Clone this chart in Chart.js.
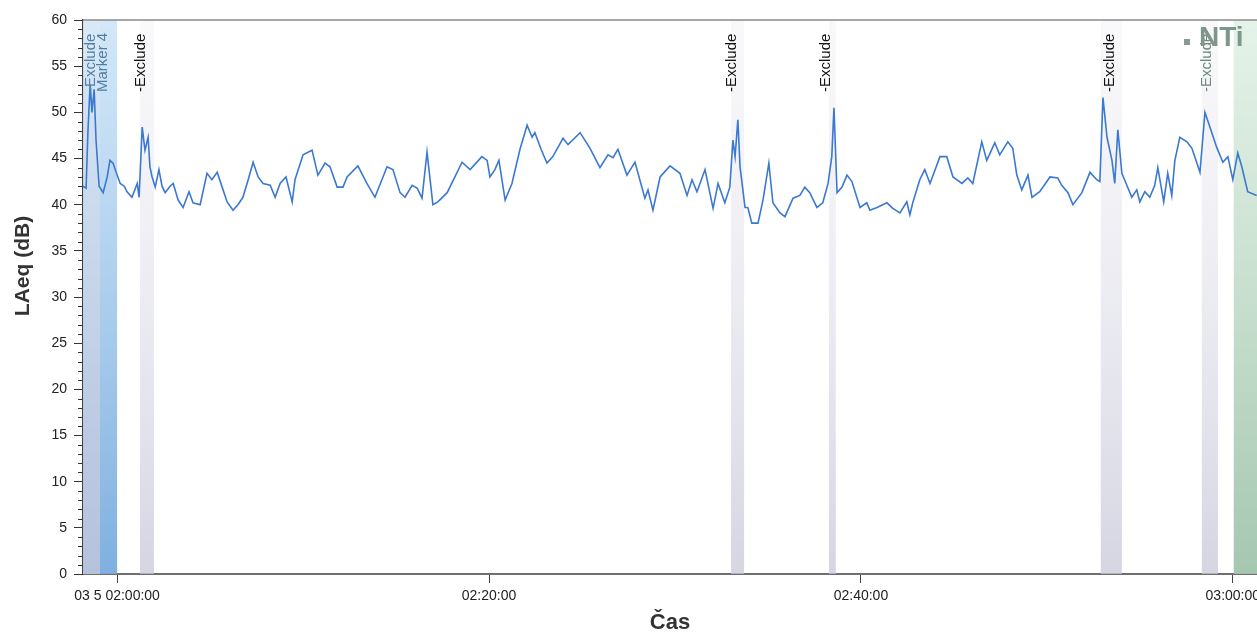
<!DOCTYPE html>
<html>
<head>
<meta charset="utf-8">
<title>LAeq</title>
<script src="https://cdn.jsdelivr.net/npm/chart.js@4"></script>
<style>
  html, body { margin: 0; padding: 0; background: #fff; }
  #wrap { width: 1257px; height: 634px; }
</style>
</head>
<body>
<div id="wrap"><canvas id="laeqChart" width="1257" height="634"></canvas></div>
<script>
// tijd in seconden vanaf 02:00:00
const timeSec = [
  -110, -100, -94, -87, -81, -74, -68, -58, -45, -32, -23, -13, -3, 10, 23, 32, 48, 65, 71, 81,
  90, 100, 106, 113, 123, 135, 145, 155, 171, 181, 197, 213, 232, 245, 268, 290, 306, 323, 339, 355,
  374, 390, 406, 423, 439, 455, 471, 494, 510, 526, 545, 565, 574, 600, 629, 648, 671, 687, 710, 729,
  742, 777, 806, 832, 871, 890, 913, 929, 952, 968, 984, 1000, 1019, 1035, 1065, 1090, 1113, 1139, 1177, 1194,
  1203, 1219, 1232, 1252, 1274, 1300, 1323, 1339, 1348, 1368, 1387, 1406, 1439, 1455, 1494, 1526, 1558, 1584, 1600, 1616,
  1645, 1671, 1703, 1713, 1729, 1752, 1784, 1816, 1839, 1855, 1871, 1897, 1923, 1939, 1961, 1977, 1987, 1994, 2003, 2010,
  2026, 2035, 2048, 2068, 2084, 2103, 2116, 2139, 2155, 2181, 2203, 2219, 2235, 2258, 2277, 2294, 2306, 2313, 2323, 2339,
  2355, 2371, 2397, 2419, 2429, 2452, 2484, 2503, 2526, 2548, 2558, 2568, 2590, 2606, 2623, 2655, 2677, 2697, 2726, 2745,
  2761, 2790, 2806, 2832, 2848, 2874, 2890, 2903, 2919, 2939, 2952, 2977, 3010, 3035, 3048, 3068, 3084, 3113, 3139, 3161,
  3171, 3181, 3194, 3210, 3219, 3229, 3242, 3258, 3274, 3290, 3300, 3316, 3332, 3348, 3358, 3377, 3390, 3403, 3413, 3429,
  3452, 3468, 3494, 3510, 3526, 3548, 3568, 3584, 3600, 3616, 3629, 3648, 3677
];
const laeq = [
  42.0, 41.8, 48.0, 53.0, 50.0, 52.5, 47.0, 42.0, 41.3, 43.0, 44.8, 44.5, 43.5, 42.3, 42.0, 41.4, 40.8, 42.3, 40.8, 48.4,
  45.9, 47.3, 44.1, 43.0, 41.9, 43.8, 42.0, 41.3, 42.0, 42.3, 40.5, 39.7, 41.4, 40.2, 40.0, 43.4, 42.7, 43.5, 41.9, 40.3,
  39.4, 40.0, 40.8, 42.7, 44.6, 43.0, 42.3, 42.1, 40.8, 42.3, 43.0, 40.3, 42.7, 45.4, 45.9, 43.2, 44.5, 44.1, 41.9, 41.9,
  43.0, 44.2, 42.3, 40.8, 44.1, 43.8, 41.3, 40.8, 42.1, 41.8, 40.7, 45.7, 40.0, 40.3, 41.3, 43.0, 44.6, 43.8, 45.2, 44.8,
  43.0, 43.8, 44.8, 40.5, 42.3, 46.0, 48.6, 47.3, 47.8, 46.0, 44.5, 45.2, 47.2, 46.5, 47.8, 46.1, 44.0, 45.4, 45.1, 46.0,
  43.2, 44.6, 40.7, 41.6, 39.4, 43.0, 44.2, 43.4, 41.0, 42.7, 41.4, 43.8, 39.6, 42.3, 40.2, 41.9, 47.0, 45.2, 49.2, 44.1,
  39.7, 39.7, 38.0, 38.0, 40.5, 44.5, 40.2, 39.1, 38.7, 40.7, 41.0, 41.9, 41.3, 39.7, 40.2, 42.3, 45.2, 50.5, 41.3, 41.9,
  43.2, 42.5, 39.7, 40.2, 39.4, 39.7, 40.2, 39.6, 39.1, 40.3, 38.9, 40.3, 42.7, 43.8, 42.3, 45.2, 45.2, 43.0, 42.3, 42.9,
  42.3, 46.8, 44.8, 46.7, 45.4, 46.8, 46.1, 43.2, 41.6, 43.2, 40.8, 41.4, 43.0, 42.9, 42.1, 41.3, 40.0, 41.3, 43.5, 42.7,
  42.5, 51.6, 47.3, 44.8, 42.3, 48.1, 43.4, 42.1, 40.8, 41.6, 40.3, 41.4, 40.8, 42.1, 44.0, 40.3, 43.4, 41.0, 44.8, 47.3,
  46.8, 46.1, 43.5, 50.0, 48.4, 46.2, 44.6, 45.2, 42.7, 45.6, 44.1, 41.4, 41.0
];

const xTickValues = [0, 1200, 2400, 3600];
const xTickLabels = ['03 5 02:00:00', '02:20:00', '02:40:00', '03:00:00'];

// gemarkeerde stukken (seconden)
const markerBand = [-110, 0];
const excludeStart = [-110, 74, 1981, 2297, 3174, 3500];
const excludeEnd = [-55, 119, 2023, 2319, 3242, 3552];
const greenBand = [3603, 3678];

// labels bovenin
const labelTimes = [-84, -45, 77, 1984, 2287, 3203, 3516];
const labelTexts = ['-Exclude', 'Marker 4', '-Exclude', '-Exclude', '-Exclude', '-Exclude', '-Exclude'];
const labelColors = ['#4f7fa6', '#4f7fa6', '#111', '#111', '#111', '#111', '#6d8a7a'];

const sans = '"Liberation Sans", Arial, sans-serif';

const bandPlugin = {
    id: 'bands',
    beforeDatasetsDraw(chart) {
        const { ctx, chartArea: a, scales: { x } } = chart;
        const band = (s, e, top, bottom) => {
            const g = ctx.createLinearGradient(0, a.top, 0, a.bottom);
            g.addColorStop(0, top);
            g.addColorStop(1, bottom);
            const x1 = x.getPixelForValue(s);
            const x2 = x.getPixelForValue(e);
            ctx.fillStyle = g;
            ctx.fillRect(x1, a.top, x2 - x1, a.bottom - a.top);
        };
        ctx.save();
        band(markerBand[0], markerBand[1], 'rgba(200,226,246,0.8)', 'rgba(120,172,222,0.95)');
        excludeStart.forEach((s, i) => {
            band(s, excludeEnd[i], 'rgba(235,235,242,0.3)', 'rgba(200,200,218,0.75)');
        });
        band(greenBand[0], greenBand[1], 'rgba(222,240,226,0.8)', 'rgba(160,196,172,0.95)');
        ctx.restore();
    },
    afterDraw(chart) {
        const { ctx, chartArea: a, scales: { x, y } } = chart;
        ctx.save();
        // bovenrand
        ctx.strokeStyle = '#8a8a8a';
        ctx.lineWidth = 1.5;
        ctx.beginPath();
        ctx.moveTo(a.left, a.top);
        ctx.lineTo(a.right, a.top);
        ctx.stroke();

        // kleine streepjes op de y-as
        ctx.strokeStyle = '#333';
        ctx.lineWidth = 1;
        for (let v = 0; v <= 60; v++) {
            if (v % 5 === 0) continue;
            const py = Math.round(y.getPixelForValue(v)) + 0.5;
            ctx.beginPath();
            ctx.moveTo(a.left - 5, py);
            ctx.lineTo(a.left, py);
            ctx.stroke();
        }

        // Exclude / Marker teksten
        ctx.font = '15px ' + sans;
        ctx.textAlign = 'left';
        ctx.textBaseline = 'middle';
        labelTimes.forEach((t, i) => {
            ctx.save();
            ctx.translate(x.getPixelForValue(t), 92);
            ctx.rotate(-Math.PI / 2);
            ctx.fillStyle = labelColors[i];
            ctx.fillText(labelTexts[i], 0, 0);
            ctx.restore();
        });

        // logo
        ctx.fillStyle = '#8a9a92';
        ctx.fillRect(1184, 39, 6, 6);
        ctx.fillStyle = '#7f978a';
        ctx.font = 'bold 28px ' + sans;
        ctx.textBaseline = 'alphabetic';
        ctx.fillText('NTi', 1199, 46);

        // y-as titel
        ctx.save();
        ctx.translate(23, 266);
        ctx.rotate(-Math.PI / 2);
        ctx.font = 'bold 21px ' + sans;
        ctx.fillStyle = '#333';
        ctx.textAlign = 'center';
        ctx.textBaseline = 'middle';
        ctx.fillText('LAeq (dB)', 0, 0);
        ctx.restore();

        ctx.restore();
    }
};

document.addEventListener('DOMContentLoaded', function () {
    const ctx = document.getElementById('laeqChart').getContext('2d');
    new Chart(ctx, {
        type: 'line',
        data: {
            datasets: [{
                label: 'LAeq',
                data: timeSec.map((t, i) => ({ x: t, y: laeq[i] })),
                borderColor: '#3b78d2',
                borderWidth: 1.6,
                pointRadius: 0,
                tension: 0,
                fill: false
            }]
        },
        options: {
            responsive: false,
            animation: false,
            layout: { padding: { top: 20, left: 0, right: 0, bottom: 0 } },
            plugins: {
                legend: { display: false },
                tooltip: { enabled: false }
            },
            scales: {
                x: {
                    type: 'linear',
                    min: -110,
                    max: 3678,
                    afterBuildTicks: scale => {
                        scale.ticks = xTickValues.map(v => ({ value: v }));
                    },
                    afterFit: scale => {
                        scale.height = 60;
                        scale.paddingLeft = 0;
                        scale.paddingRight = 0;
                    },
                    ticks: {
                        autoSkip: false,
                        maxRotation: 0,
                        padding: 5,
                        color: '#222',
                        font: { family: sans, size: 14 },
                        callback: v => xTickLabels[xTickValues.indexOf(v)]
                    },
                    grid: { drawOnChartArea: false, tickLength: 9, color: '#444' },
                    border: { color: '#6f6f6f', width: 2 },
                    title: {
                        display: true,
                        text: 'Čas',
                        color: '#333',
                        font: { family: sans, size: 22, weight: 'bold', lineHeight: 1 },
                        padding: { top: 0, bottom: 0 }
                    }
                },
                y: {
                    min: 0,
                    max: 60,
                    afterFit: scale => { scale.width = 83; },
                    ticks: {
                        stepSize: 5,
                        padding: 7,
                        color: '#222',
                        font: { family: sans, size: 14 }
                    },
                    grid: { drawOnChartArea: false, tickLength: 9, color: '#333' },
                    border: { color: '#444', width: 1.5 }
                }
            }
        },
        plugins: [bandPlugin]
    });
});
</script>
</body>
</html>
